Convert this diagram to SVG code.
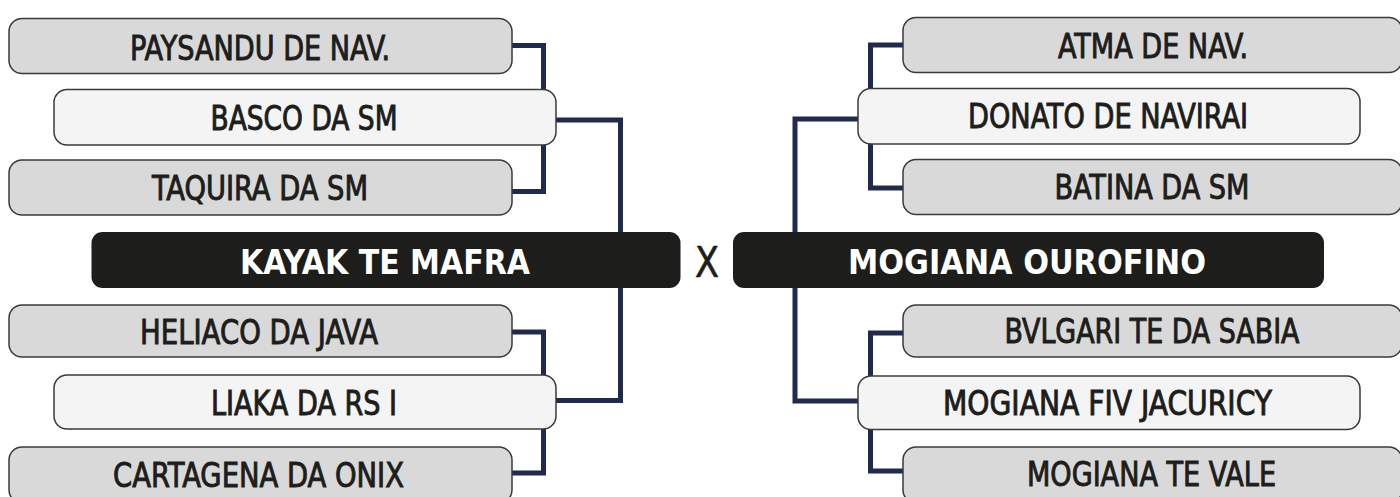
<svg xmlns="http://www.w3.org/2000/svg" width="1400" height="497" viewBox="0 0 1400 497">
<style>
.g{fill:#d9d9d9;stroke:#3a3a3a;stroke-width:1.5}
.w{fill:#f4f4f4;stroke:#3a3a3a;stroke-width:1.5}
.b{fill:#1d1d1b}
.t{font-family:"DejaVu Sans Condensed","Liberation Sans",sans-serif;font-size:33px;fill:#1d1d1b;stroke:#1d1d1b;stroke-width:0.9;text-anchor:middle}
.tb{font-family:"DejaVu Sans Condensed","Liberation Sans",sans-serif;font-size:34px;font-weight:bold;fill:#ffffff;text-anchor:middle}
.c{fill:none;stroke:#1f2a4e;stroke-width:5}
</style>
<rect width="1400" height="497" fill="#ffffff"/>
<g id="connectors">
<path class="c" d="M512 45.5H543.5V191.5H512"/>
<path class="c" d="M556 120H620.5V400.5H556"/>
<path class="c" d="M512 332H543.5V473H512"/>
<path class="c" d="M903 45H870.5V188H903"/>
<path class="c" d="M858 119H795V401H858"/>
<path class="c" d="M903 333H870.5V471H903"/>
</g>
<g id="n-paysandu"><rect class="g" x="9" y="18.5" width="503" height="55" rx="13"/><text class="t" x="260" y="60" textLength="260" lengthAdjust="spacingAndGlyphs">PAYSANDU DE NAV.</text></g>
<g id="n-basco"><rect class="w" x="54" y="89.5" width="502" height="55.5" rx="13"/><text class="t" x="304" y="130" textLength="187" lengthAdjust="spacingAndGlyphs">BASCO DA SM</text></g>
<g id="n-taquira"><rect class="g" x="9" y="160" width="503" height="55" rx="13"/><text class="t" x="260" y="200" textLength="216" lengthAdjust="spacingAndGlyphs">TAQUIRA DA SM</text></g>
<g id="n-kayak"><rect class="b" x="91.5" y="232" width="589" height="56" rx="11"/><text class="tb" x="385" y="274" textLength="290" lengthAdjust="spacingAndGlyphs">KAYAK TE MAFRA</text></g>
<g id="n-heliaco"><rect class="g" x="9" y="305" width="503" height="52" rx="13"/><text class="t" x="259" y="344" textLength="238" lengthAdjust="spacingAndGlyphs">HELIACO DA JAVA</text></g>
<g id="n-liaka"><rect class="w" x="54" y="375" width="502" height="54" rx="13"/><text class="t" x="304" y="415" textLength="186" lengthAdjust="spacingAndGlyphs">LIAKA DA RS I</text></g>
<g id="n-cartagena"><rect class="g" x="9" y="447" width="503" height="56" rx="13"/><text class="t" x="258.5" y="487" textLength="291" lengthAdjust="spacingAndGlyphs">CARTAGENA DA ONIX</text></g>
<g id="n-x"><text x="707" y="277" style="font-family:'DejaVu Sans Condensed','Liberation Sans',sans-serif;font-size:42px;fill:#1d1d1b;stroke:#1d1d1b;stroke-width:0.6;text-anchor:middle" textLength="24" lengthAdjust="spacingAndGlyphs">X</text></g>
<g id="n-atma"><rect class="g" x="903" y="17.5" width="499" height="55" rx="13"/><text class="t" x="1153" y="58" textLength="190" lengthAdjust="spacingAndGlyphs">ATMA DE NAV.</text></g>
<g id="n-donato"><rect class="w" x="858" y="88.5" width="502" height="55.5" rx="13"/><text class="t" x="1108" y="128" textLength="280" lengthAdjust="spacingAndGlyphs">DONATO DE NAVIRAI</text></g>
<g id="n-batina"><rect class="g" x="903" y="159.5" width="499" height="55" rx="13"/><text class="t" x="1152" y="199" textLength="195" lengthAdjust="spacingAndGlyphs">BATINA DA SM</text></g>
<g id="n-ourofino"><rect class="b" x="733" y="232" width="591" height="56" rx="11"/><text class="tb" x="1027" y="274" textLength="358" lengthAdjust="spacingAndGlyphs">MOGIANA OUROFINO</text></g>
<g id="n-bvlgari"><rect class="g" x="903" y="305" width="499" height="52" rx="13"/><text class="t" x="1152" y="343" textLength="295" lengthAdjust="spacingAndGlyphs">BVLGARI TE DA SABIA</text></g>
<g id="n-fiv"><rect class="w" x="858" y="376" width="502" height="53.5" rx="13"/><text class="t" x="1107.5" y="415" textLength="329" lengthAdjust="spacingAndGlyphs">MOGIANA FIV JACURICY</text></g>
<g id="n-vale"><rect class="g" x="903" y="447" width="499" height="56" rx="13"/><text class="t" x="1151.5" y="486" textLength="249" lengthAdjust="spacingAndGlyphs">MOGIANA TE VALE</text></g>
</svg>
